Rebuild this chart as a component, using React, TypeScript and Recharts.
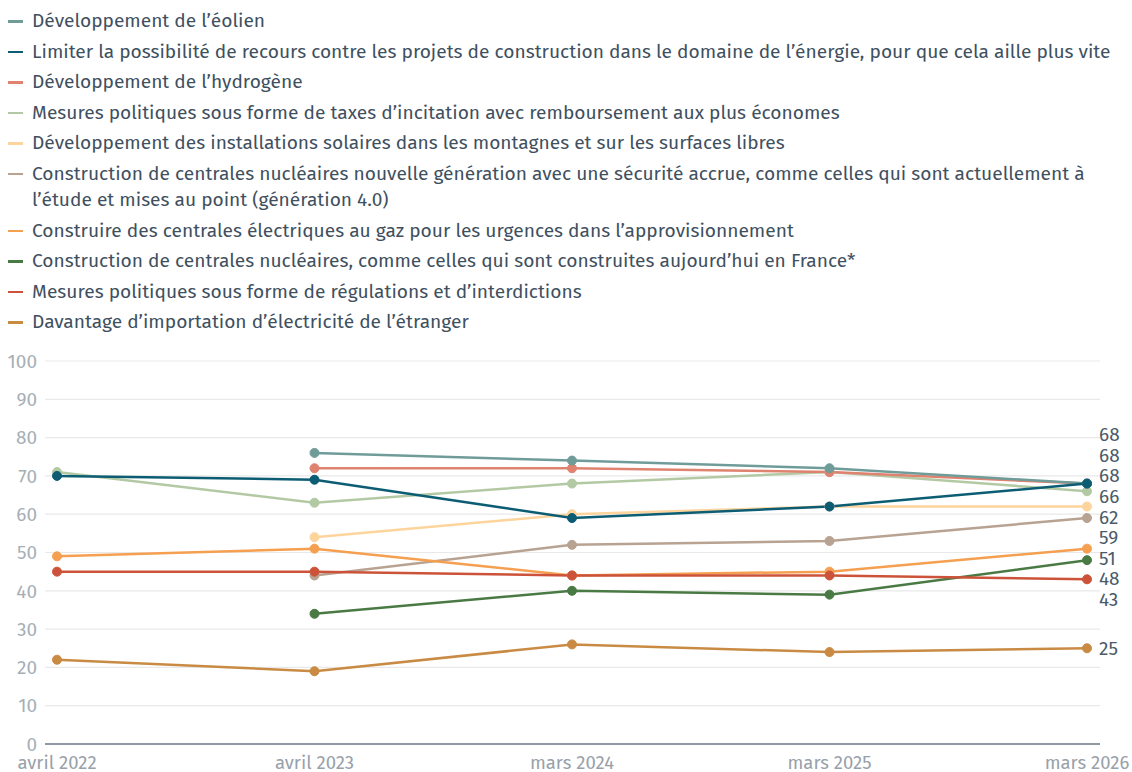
import React from "react";
import { LineChart, Line, XAxis, YAxis, CartesianGrid, LabelList } from "recharts";

const categories = ["avril 2022", "avril 2023", "mars 2024", "mars 2025", "mars 2026"];

const eolien = [null, 76, 74, 72, 68];
const limiter = [70, 69, 59, 62, 68];
const hydrogene = [null, 72, 72, 71, 68];
const taxes = [71, 63, 68, 71, 66];
const solaire = [null, 54, 60, 62, 62];
const nucleaire4 = [null, 44, 52, 53, 59];
const gaz = [49, 51, 44, 45, 51];
const nucleaire = [null, 34, 40, 39, 48];
const regulations = [45, 45, 44, 44, 43];
const importation = [22, 19, 26, 24, 25];

const seriesNames = [
  "Développement de l’éolien",
  "Limiter la possibilité de recours contre les projets de construction dans le domaine de l’énergie, pour que cela aille plus vite",
  "Développement de l’hydrogène",
  "Mesures politiques sous forme de taxes d’incitation avec remboursement aux plus économes",
  "Développement des installations solaires dans les montagnes et sur les surfaces libres",
  "Construction de centrales nucléaires nouvelle génération avec une sécurité accrue, comme celles qui sont actuellement à l’étude et mises au point (génération 4.0)",
  "Construire des centrales électriques au gaz pour les urgences dans l’approvisionnement",
  "Construction de centrales nucléaires, comme celles qui sont construites aujourd’hui en France*",
  "Mesures politiques sous forme de régulations et d’interdictions",
  "Davantage d’importation d’électricité de l’étranger",
];
const seriesValues = [eolien, limiter, hydrogene, taxes, solaire, nucleaire4, gaz, nucleaire, regulations, importation];
const seriesColors = [
  "#6f9c99", "#0c5d73", "#df826f", "#b3c9a4", "#fdd49c",
  "#b8a292", "#f59f50", "#4a7a44", "#cc5339", "#c98b43",
];
// drawing order (last on top)
const drawOrder = [9, 3, 2, 0, 4, 5, 6, 7, 8, 1];

const yTicks = [0, 10, 20, 30, 40, 50, 60, 70, 80, 90, 100];

const data = categories.map((c, i) => {
  const row: any = { cat: c };
  seriesValues.forEach((s, k) => (row["s" + k] = s[i]));
  return row;
});

const FONT = "'Fira Sans', 'Noto Sans', sans-serif";
const FS = 19;
const CHART_W = 1124;
const CHART_H = 764;
const M_TOP = 353;
const X_H = 28;
const PLOT_H = CHART_H - M_TOP - X_H;
const PX = PLOT_H / 100;
const SPACING = 20.6;

// label de-collision for end labels
const lastIdx = categories.length - 1;
const labelOffsets: number[] = (() => {
  const items = seriesValues.map((s, k) => ({ k, y: (100 - (s[lastIdx] as number)) * PX }));
  items.sort((a, b) => a.y - b.y);
  let groups = items.map((it) => ({ members: [it], center: it.y }));
  let changed = true;
  while (changed) {
    changed = false;
    for (let g = 0; g < groups.length - 1; g++) {
      const a = groups[g];
      const b = groups[g + 1];
      const aBottom = a.center + ((a.members.length - 1) * SPACING) / 2;
      const bTop = b.center - ((b.members.length - 1) * SPACING) / 2;
      if (bTop - aBottom < SPACING) {
        const members = [...a.members, ...b.members];
        const center = members.reduce((acc, m) => acc + m.y, 0) / members.length;
        groups.splice(g, 2, { members, center });
        changed = true;
        break;
      }
    }
  }
  const offs: number[] = new Array(seriesValues.length).fill(0);
  groups.forEach((g) => {
    const start = g.center - ((g.members.length - 1) * SPACING) / 2;
    g.members.forEach((m, j) => {
      offs[m.k] = start + j * SPACING - m.y;
    });
  });
  return offs;
})();

const makeEndLabel = (k: number) => (props: any) => {
  const { x, y, value, index } = props;
  if (index !== lastIdx || value == null) return null;
  return (
    <text
      x={Number(x) + 12}
      y={Number(y) + labelOffsets[k]}
      dominantBaseline="central"
      fill="#4b5b69"
      fontSize={FS}
      fontFamily={FONT}
    >
      {value}
    </text>
  );
};

function Legend() {
  return (
    <div style={{ position: "absolute", left: 0, top: 0, width: 1120, fontFamily: FONT, fontSize: 19.15, color: "#3f5060" }}>
      {seriesNames.map((n, k) => (
        <div key={k} style={{ display: "flex", alignItems: "flex-start", lineHeight: "26.5px", marginBottom: 4 }}>
          <div style={{ width: 15, height: 2.5, background: seriesColors[k], marginTop: 12, marginRight: 9, flexShrink: 0 }} />
          <div style={{ flex: 1 }}>{n}</div>
        </div>
      ))}
    </div>
  );
}

export default function App() {
  return (
    <div style={{ position: "relative", width: CHART_W, height: CHART_H, background: "#fff" }}>
      <style>{"body{margin-bottom:0;margin-right:0;overflow:hidden}#root{width:1124px}"}</style>
      <LineChart
        width={CHART_W}
        height={CHART_H}
        data={data}
        margin={{ top: M_TOP, right: 32, bottom: 0, left: 0 }}
        style={{ position: "absolute", left: 0, top: 0, overflow: "visible" }}
      >
        <CartesianGrid vertical={false} stroke="#e9e9e9" strokeWidth={1.2} />
        <XAxis
          dataKey="cat"
          height={X_H}
          padding={{ left: 12, right: 13 }}
          tickLine={false}
          axisLine={{ stroke: "#6d7b88", strokeWidth: 1.5 }}
          tick={{ fill: "#98a1aa", fontSize: 18.5, fontFamily: FONT }}
          tickMargin={6}
          interval={0}
        />
        <YAxis
          width={37}
          domain={[0, 100]}
          ticks={yTicks}
          tickLine={false}
          axisLine={false}
          tick={{ fill: "#a7afb6", fontSize: FS, fontFamily: FONT }}
          interval={0}
        />
        {drawOrder.map((k) => (
          <Line
            key={k}
            dataKey={"s" + k}
            stroke={seriesColors[k]}
            strokeWidth={2.5}
            dot={{ r: 4.5, fill: seriesColors[k], stroke: seriesColors[k], strokeWidth: 1 }}
            activeDot={false}
            isAnimationActive={false}
          >
            <LabelList dataKey={"s" + k} content={makeEndLabel(k)} />
          </Line>
        ))}
      </LineChart>
      <Legend />
    </div>
  );
}
